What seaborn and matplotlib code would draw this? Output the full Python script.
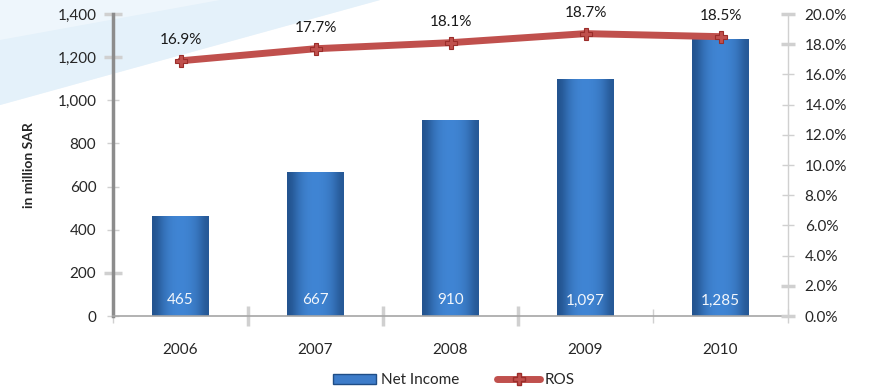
import numpy as np
import pandas as pd
import matplotlib
import matplotlib.pyplot as plt
import seaborn as sns
from matplotlib.patches import Polygon, Patch
from matplotlib.lines import Line2D
from matplotlib.ticker import FuncFormatter

years = ["2006", "2007", "2008", "2009", "2010"]
net_income = [465, 667, 910, 1097, 1285]
income_labels = ["465", "667", "910", "1,097", "1,285"]
ros = [16.9, 17.7, 18.1, 18.7, 18.5]
ros_labels = ["16.9%", "17.7%", "18.1%", "18.7%", "18.5%"]

sns.set_style("white")
plt.rcParams['font.family'] = ['Lato', 'DejaVu Sans']

df = pd.DataFrame({"year": years, "income": net_income, "ros": ros})

fig = plt.figure(figsize=(8.73, 3.92), dpi=100)

# light blue swoosh in the background
bg = fig.add_axes([0, 0, 1, 1], zorder=-5)
bg.set_xlim(0, 873)
bg.set_ylim(392, 0)
bg.axis("off")
bg.add_patch(Polygon([(0, 0), (380, 0), (0, 105)], closed=True, color="#EEF6FC", lw=0))
bg.add_patch(Polygon([(0, 40), (220, 0), (380, 0), (0, 105)], closed=True, color="#E4F1FA", lw=0))

ax = fig.add_axes([113 / 873, 1 - 316 / 392, (788 - 113) / 873, (316 - 14) / 392])
ax.patch.set_alpha(0)

sns.barplot(data=df, x="year", y="income", color="#3D7CC9", width=0.42, ax=ax, zorder=2)

# horizontal shading on the bars
grad = np.array([[0.55, 0.8, 0.95, 1.0, 1.0, 0.95, 0.85, 0.6]])
cmap = matplotlib.colors.LinearSegmentedColormap.from_list("b", ["#1F4D86", "#4085D4"])
for p in ax.patches:
    x0, y0, w, h = p.get_x(), p.get_y(), p.get_width(), p.get_height()
    im = ax.imshow(grad, cmap=cmap, vmin=0.5, vmax=1.0, aspect="auto",
                   extent=[x0, x0 + w, y0, y0 + h], zorder=2.5, interpolation="bicubic")
    im.set_clip_path(p)

for i, lab in enumerate(income_labels):
    ax.text(i, 72, lab, color="#F2F6FB", ha="center", va="center", fontsize=11, zorder=5)

ax.set_xlim(-0.5, len(years) - 0.5)
ax.set_ylim(0, 1400)
ax.set_yticks(range(0, 1401, 200))
ax.yaxis.set_major_formatter(FuncFormatter(lambda v, p: f"{int(v):,}"))
ax.set_xlabel("")
ax.set_ylabel("in million SAR", fontsize=10, fontweight="bold", labelpad=16)

for s in ["top", "right"]:
    ax.spines[s].set_visible(False)
ax.spines["left"].set_color("#8C8C8C")
ax.spines["left"].set_linewidth(2.5)
ax.spines["bottom"].set_color("#A6A6A6")
ax.spines["bottom"].set_linewidth(1.2)

ax.tick_params(axis="y", left=True, length=8, width=1, color="#D0D0D0", direction="inout", labelsize=11, pad=8)
for i, t in enumerate(ax.yaxis.get_major_ticks()):
    if i in (1, 6, 7):
        t.tick1line.set_color("#8C8C8C")
        t.tick1line.set_markeredgewidth(2.5)
        t.tick1line.set_markersize(13)

ax.set_xticks(np.arange(len(years)))
ax.set_xticklabels(years)
ax.tick_params(axis="x", bottom=False, labelsize=11, pad=16)
ax.set_xticks(np.arange(len(years) + 1) - 0.5, minor=True)
ax.tick_params(axis="x", which="minor", bottom=True, length=10, width=1, color="#D0D0D0", direction="inout")
for i, t in enumerate(ax.xaxis.get_minor_ticks()):
    if i in (1, 2, 3):
        t.tick1line.set_color("#8C8C8C")
        t.tick1line.set_markeredgewidth(2.5)
        t.tick1line.set_markersize(14)

ax2 = ax.twinx()
pos = np.arange(len(years))
sns.lineplot(x=pos, y=ros, ax=ax2, color="#C0504D", lw=5, zorder=4,
             marker="P", markersize=9, markerfacecolor="#C0504D", markeredgecolor="#9B2D2A",
             markeredgewidth=0.8)
for i, lab in enumerate(ros_labels):
    ax2.text(i, ros[i] + 1.35, lab, ha="center", va="center", fontsize=11, color="#1a1a1a")

ax2.set_ylim(0, 20)
ax2.set_yticks(np.arange(0, 20.1, 2))
ax2.yaxis.set_major_formatter(FuncFormatter(lambda v, p: f"{v:.1f}%"))
for s in ["top", "left", "bottom"]:
    ax2.spines[s].set_visible(False)
ax2.spines["right"].set_color("#D0D0D0")
ax2.spines["right"].set_linewidth(1)
ax2.tick_params(axis="y", right=True, length=8, width=1, color="#D0D0D0", direction="inout", labelsize=11, pad=8)
for i, t in enumerate(ax2.yaxis.get_major_ticks()):
    if i in (0, 1, 9, 10):
        t.tick2line.set_color("#8C8C8C")
        t.tick2line.set_markeredgewidth(2.5)
        t.tick2line.set_markersize(10)
ax2.set_ylabel("")
ax.set_zorder(1)
ax2.set_zorder(2)
ax2.patch.set_alpha(0)

handles = [Patch(facecolor="#3D7CC9", edgecolor="#1F4D86"),
           Line2D([0], [0], color="#C0504D", lw=5, marker="P", markersize=8,
                  markerfacecolor="#C0504D", markeredgecolor="#9B2D2A")]
fig.legend(handles, ["Net Income", "ROS"], loc="center", bbox_to_anchor=(0.52, 0.03),
           ncol=2, frameon=False, fontsize=11, handlelength=2.8, columnspacing=2.5, handletextpad=0.3)

fig.savefig("out.png", dpi=100)
